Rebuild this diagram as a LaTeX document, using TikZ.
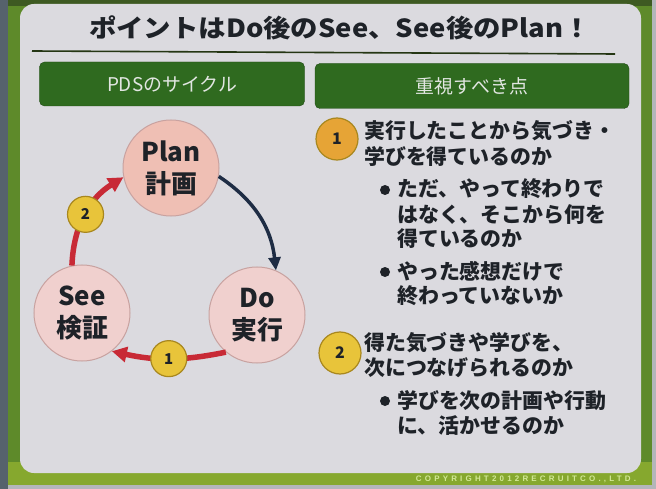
\documentclass[tikz,border=0pt]{standalone}
\usepackage{fontspec}
\setmainfont{Noto Sans CJK JP}
\newfontfamily\copyfont[LetterSpace=40]{Liberation Sans}
\usetikzlibrary{arrows.meta}
\definecolor{outergray}{HTML}{B4B6BA}
\definecolor{slate}{HTML}{56626C}
\definecolor{framegreen}{HTML}{5E8A2A}
\definecolor{topgreen}{HTML}{3E5A22}
\definecolor{bargreen}{HTML}{86A82E}
\definecolor{panelgray}{HTML}{DBDADF}
\definecolor{hdrgreen}{HTML}{2F6A1F}
\definecolor{hdrtext}{HTML}{E2E6E2}
\definecolor{txt}{HTML}{1E2228}
\definecolor{pinkA}{HTML}{EFBFB4}
\definecolor{pinkB}{HTML}{F0D0CE}
\definecolor{pinkedge}{HTML}{C8A2A0}
\definecolor{redarrow}{HTML}{C82A36}
\definecolor{navy}{HTML}{1E2C44}
\definecolor{gold}{HTML}{E8C43A}
\definecolor{goldedge}{HTML}{A8871E}
\definecolor{orangeb}{HTML}{E6A436}
\definecolor{copygreen}{HTML}{D2E896}
\tikzset{
  hdr/.style={draw=hdrgreen!70!black, fill=hdrgreen, rounded corners=5bp, text=hdrtext,
    font=\fontsize{19}{22}\selectfont, inner sep=0},
  stage/.style={circle, draw=pinkedge, line width=1bp, minimum size=96bp, inner sep=0,
    align=center, text=txt, font=\fontsize{26}{32}\bfseries},
  badge/.style={circle, fill=gold, draw=goldedge, line width=1.2bp, minimum size=36bp,
    inner sep=0, text=txt, font=\fontsize{15}{15}\bfseries},
  redarr/.style={draw=redarrow, line width=5.5bp, -{Triangle[length=15bp,width=15bp]}},
  navyarr/.style={draw=navy, line width=3.5bp, -{Triangle[length=13bp,width=12bp]}},
  body/.style={anchor=base west, inner sep=0, text=txt, font=\fontsize{21}{25}\bfseries},
  bulletdot/.style={circle, fill=txt, minimum size=10bp, inner sep=0}
}
\begin{document}
\begin{tikzpicture}[x=1bp,y=-1bp]
\useasboundingbox (0,0) rectangle (656,489);
% frame and panel
\fill[outergray] (0,0) rectangle (656,489);
\fill[framegreen] (8,0) rectangle (652,485);
\fill[slate] (0,0) rectangle (8,489);
\fill[topgreen] (8,0) rectangle (652,6);
\fill[bargreen] (8,462) rectangle (652,485);
\fill[panelgray, rounded corners=14bp] (20,4) rectangle (641,473);
\node[font=\copyfont\fontsize{8}{8}\bfseries, text=copygreen, inner sep=0] (copy) at (526,479) {COPYRIGHT2012RECRUITCO.,LTD.};
% title
\node[text=txt, font=\fontsize{25}{30}\bfseries, inner sep=0] (title) at (340,28) {\scalebox{1.1}[1]{ポイントはDo後のSee、See後のPlan！}};
\draw[line width=1.6bp, color=topgreen!60!black] (32,51) -- (615,54);
% headers
\node[hdr, minimum width=265bp, minimum height=44bp] (h1) at (172,84) {PDSのサイクル};
\node[hdr, minimum width=314bp, minimum height=45bp] (h2) at (472,86) {重視すべき点};
% cycle
\node[stage, fill=pinkA] (plan) at (171,168) {Plan\\計画};
\node[stage, fill=pinkB] (do) at (257,315) {Do\\実行};
\node[stage, fill=pinkB] (see) at (82,313) {See\\検証};
\draw[navyarr] (plan.-10) to[bend left=25] (do.67);
\draw[redarr] (do.230) to[bend left=12] node[badge] (b1) {1} (see.-52);
\draw[redarr] (see.102) to[bend left=28] node[badge] (b2) {2} (plan.191);
% right column
\node[badge, fill=orangeb, minimum size=42bp, font=\fontsize{16}{16}\bfseries] (r1) at (337,139) {1};
\node[body] (t1a) at (364,139) {実行したことから気づき・};
\node[body] (t1b) at (364,165) {学びを得ているのか};
\node[bulletdot] (u1) at (385,190) {};
\node[body] (t1c) at (397,197) {ただ、やって終わりで};
\node[body] (t1d) at (397,223) {はなく、そこから何を};
\node[body] (t1e) at (397,247) {得ているのか};
\node[bulletdot] (u2) at (385,272) {};
\node[body] (t1f) at (397,279) {やった感想だけで};
\node[body] (t1g) at (397,303) {終わっていないか};
\node[badge, minimum size=42bp, font=\fontsize{16}{16}\bfseries] (r2) at (340,353) {2};
\node[body] (t2a) at (364,350) {得た気づきや学びを、};
\node[body] (t2b) at (364,375) {次につなげられるのか};
\node[bulletdot] (u3) at (385,401) {};
\node[body] (t2c) at (397,408) {学びを次の計画や行動};
\node[body] (t2d) at (397,433) {に、活かせるのか};
\end{tikzpicture}
\end{document}
